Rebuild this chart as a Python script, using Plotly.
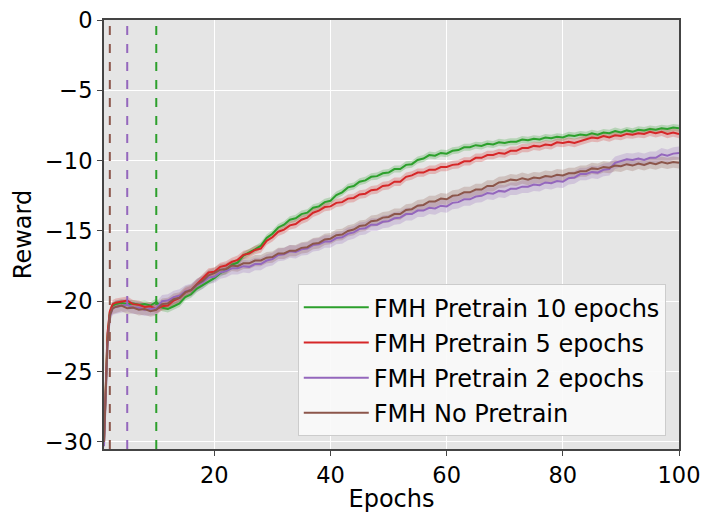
import plotly.graph_objects as go

# ---------------- data ----------------
epochs = [1, 1.3, 1.6, 2, 2.5, 3] + list(range(4, 101))

green_10 = [-30.0, -26.5, -22.5, -20.8, -20.3, -20.2,
            -20.1, -20.2, -20.15, -20.25, -20.2, -20.3, -20.05,
            -20.45, -20.55, -20.35, -20.15, -19.7, -19.5, -19.1, -18.85, -18.55, -18.35,
            -18.0, -17.8, -17.4, -17.25, -16.75, -16.55, -16.3, -16.05, -15.5, -15.2,
            -14.75, -14.55, -14.2, -14.1, -13.8, -13.7, -13.35, -13.25, -12.95, -12.85,
            -12.45, -12.25, -11.9, -11.8, -11.5, -11.4, -11.15, -11.1, -10.9, -10.85,
            -10.6, -10.6, -10.3, -10.25, -9.95, -9.85, -9.6, -9.65, -9.45, -9.5,
            -9.3, -9.25, -9.05, -9.05, -8.9, -8.95, -8.8, -8.85, -8.7, -8.75,
            -8.65, -8.65, -8.5, -8.55, -8.45, -8.5, -8.35, -8.4, -8.3, -8.35,
            -8.2, -8.25, -8.15, -8.2, -8.05, -8.15, -8.0, -8.05, -7.9, -8.0,
            -7.85, -7.95, -7.8, -7.85, -7.75, -7.8, -7.7, -7.75, -7.65, -7.7]

red_5 = [-30.0, -26.0, -22.3, -20.7, -20.2, -20.1,
         -20.0, -19.95, -20.2, -20.25, -20.4, -20.35, -20.55,
         -20.35, -20.3, -19.95, -19.75, -19.35, -19.2, -18.8, -18.35, -17.95, -17.9,
         -17.55, -17.45, -17.2, -17.05, -16.7, -16.6, -16.35, -16.25, -15.7, -15.45,
         -15.05, -14.9, -14.6, -14.5, -14.2, -14.05, -13.7, -13.55, -13.3, -13.25,
         -13.0, -12.95, -12.7, -12.65, -12.4, -12.35, -12.1, -12.05, -11.8, -11.75,
         -11.5, -11.5, -11.15, -11.05, -10.85, -10.85, -10.65, -10.65, -10.45, -10.45,
         -10.3, -10.25, -10.05, -10.05, -9.8, -9.8, -9.6, -9.6, -9.45, -9.5,
         -9.3, -9.3, -9.1, -9.1, -8.95, -9.0, -8.85, -8.9, -8.7, -8.75,
         -8.65, -8.75, -8.6, -8.45, -8.35, -8.4, -8.25, -8.35, -8.2, -8.25,
         -8.1, -8.15, -8.05, -8.1, -7.95, -8.05, -7.95, -8.1, -8.0, -8.1]

purple_2 = [-30.3, -27.0, -23.2, -21.1, -20.5, -20.4,
            -20.35, -20.25, -20.45, -20.45, -20.6, -20.55, -20.5,
            -20.0, -19.95, -19.7, -19.6, -19.3, -19.2, -18.85, -18.65, -18.3, -18.25,
            -17.95, -17.85, -17.65, -17.65, -17.5, -17.55, -17.35, -17.35, -17.1, -17.0,
            -16.7, -16.65, -16.45, -16.5, -16.3, -16.25, -16.0, -15.95, -15.75, -15.75,
            -15.5, -15.45, -15.2, -15.1, -14.85, -14.8, -14.55, -14.55, -14.35, -14.3,
            -14.1, -14.05, -13.8, -13.8, -13.55, -13.55, -13.35, -13.4, -13.2, -13.25,
            -13.0, -12.95, -12.75, -12.75, -12.55, -12.5, -12.3, -12.35, -12.15, -12.2,
            -12.0, -12.0, -11.85, -11.85, -11.7, -11.75, -11.55, -11.6, -11.45, -11.5,
            -11.25, -11.2, -10.95, -10.95, -10.8, -10.85, -10.65, -10.6, -10.15, -10.05,
            -9.9, -9.95, -9.85, -9.95, -9.8, -9.8, -9.55, -9.65, -9.5, -9.45]

brown_0 = [-30.0, -26.8, -23.0, -21.0, -20.5, -20.4,
           -20.3, -20.5, -20.45, -20.6, -20.55, -20.7, -20.6,
           -20.2, -20.15, -19.85, -19.75, -19.35, -19.2, -18.8, -18.55, -18.15, -18.0,
           -17.75, -17.7, -17.45, -17.5, -17.3, -17.3, -17.1, -17.1, -16.9, -16.85,
           -16.6, -16.6, -16.4, -16.4, -16.2, -16.15, -15.9, -15.85, -15.6, -15.55,
           -15.3, -15.25, -15.0, -14.9, -14.65, -14.6, -14.3, -14.25, -14.05, -14.0,
           -13.8, -13.8, -13.5, -13.45, -13.2, -13.15, -12.9, -12.9, -12.7, -12.75,
           -12.5, -12.45, -12.25, -12.25, -12.05, -12.05, -11.8, -11.8, -11.55, -11.5,
           -11.35, -11.4, -11.25, -11.35, -11.2, -11.25, -11.1, -11.15, -11.0, -11.05,
           -10.9, -10.9, -10.75, -10.75, -10.55, -10.6, -10.45, -10.5, -10.35, -10.4,
           -10.25, -10.35, -10.2, -10.3, -10.15, -10.25, -10.1, -10.2, -10.1, -10.15]

series_names = ["FMH Pretrain 10 epochs", "FMH Pretrain 5 epochs",
                "FMH Pretrain 2 epochs", "FMH No Pretrain"]
series_values = [green_10, red_5, purple_2, brown_0]
band_halfwidth = [0.25, 0.3, 0.45, 0.4]

pretrain_line_x = [10, 5, 2]
pretrain_line_colors = ["#2ca02c", "#9467bd", "#8c564b"]

colors = ["#2ca02c", "#d62728", "#9467bd", "#8c564b"]
band_colors = ["rgba(44,160,44,0.25)", "rgba(214,39,40,0.25)",
               "rgba(148,103,189,0.25)", "rgba(140,86,75,0.25)"]

x_ticks = [20, 40, 60, 80, 100]
y_ticks = [0, -5, -10, -15, -20, -25, -30]

FONT = "DejaVu Sans"

for s in series_values:
    assert len(s) == len(epochs)

fig = go.Figure()

for name, vals, hw, bcol in zip(series_names, series_values, band_halfwidth, band_colors):
    upper = [v + hw for v in vals]
    lower = [v - hw for v in vals]
    fig.add_trace(go.Scatter(x=epochs + epochs[::-1], y=upper + lower[::-1],
                             fill="toself", fillcolor=bcol, line=dict(width=0),
                             hoverinfo="skip", showlegend=False))

for i, (name, vals, col) in enumerate(zip(series_names, series_values, colors)):
    fig.add_trace(go.Scatter(x=epochs, y=vals, mode="lines", name=name,
                             legendgroup=f"g{i}",
                             line=dict(color=col, width=2)))

for xv, col in zip(pretrain_line_x, pretrain_line_colors):
    fig.add_vline(x=xv, line=dict(color=col, width=2, dash="dash"))

fig.update_layout(
    width=703, height=513,
    margin=dict(l=104, r=24, t=20, b=64),
    paper_bgcolor="white", plot_bgcolor="#e5e5e5",
    font=dict(family=FONT, size=22.5, color="black"),
    showlegend=True,
    legend=dict(x=0.977, y=0.03, xanchor="right", yanchor="bottom",
                bgcolor="rgba(250,250,250,0.9)", bordercolor="#cccccc", borderwidth=1,
                font=dict(family=FONT, size=24, color="black"),
                tracegroupgap=1, itemwidth=65),
)
fig.update_xaxes(range=[1, 100], tickvals=x_ticks, showgrid=True, gridcolor="white", gridwidth=1,
                 showline=True, linecolor="#444444", linewidth=2, mirror=True,
                 ticks="outside", ticklen=5, tickcolor="#444444", zeroline=False,
                 automargin=False,
                 title=dict(text="Epochs", font=dict(family=FONT, size=24), standoff=15))
fig.update_yaxes(range=[-30.5, 0], tickvals=y_ticks, showgrid=True, gridcolor="white", gridwidth=1,
                 showline=True, linecolor="#444444", linewidth=2, mirror=True,
                 ticks="outside", ticklen=5, tickcolor="#444444", zeroline=False,
                 automargin=False,
                 title=dict(text="Reward", font=dict(family=FONT, size=24), standoff=7))

fig.write_html("out.html")
